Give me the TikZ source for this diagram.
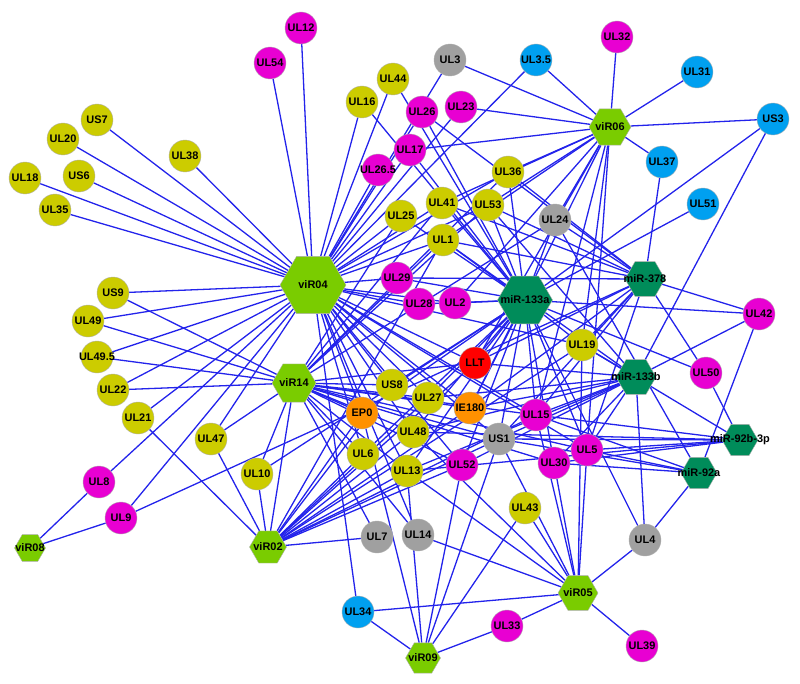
\documentclass[tikz,border=0pt]{standalone}
\usepackage{fontspec}
\setmainfont{Liberation Sans}
\usepackage{xcolor}
\usetikzlibrary{
	shapes.geometric,   %几何形状
	backgrounds         %背景路径
}
\definecolor{geneyellow}{RGB}{204,204,0}
\definecolor{genemagenta}{RGB}{232,0,210}
\definecolor{geneblue}{RGB}{0,160,240}
\definecolor{genegray}{RGB}{160,160,160}
\definecolor{geneorange}{RGB}{255,145,0}
\definecolor{genered}{RGB}{255,0,0}
\definecolor{virgreen}{RGB}{122,204,0}
\definecolor{mirgreen}{RGB}{0,140,90}
\definecolor{linkblue}{RGB}{35,35,235}
\definecolor{rimgray}{RGB}{175,175,175}
\tikzset{
	every picture/.style={
		x=1bp,y=-1bp
	},
	gene/.style={circle,
		minimum size=32bp,
		inner sep=0pt,
		draw=rimgray,
		fill=#1,
		font=\fontsize{11}{11}\selectfont\bfseries},
	hexbase/.style={regular polygon,
		regular polygon sides=6,
		inner sep=0pt,
		draw=rimgray,
		font=\fontsize{11}{11}\selectfont\bfseries},
	vhub/.style={hexbase,fill=virgreen,minimum size=#1},
	mhub/.style={hexbase,fill=mirgreen,minimum size=#1},
	link/.style={draw=linkblue,line width=1.3bp}
}

\begin{document}
\begin{tikzpicture}
	\useasboundingbox (0,0) rectangle (800,684);
	% miRNA
	\node (vir04) at (313,285) [vhub=66bp] {\makebox[0pt]{viR04}};
	\node (vir14) at (294,383) [vhub=44bp] {\makebox[0pt]{viR14}};
	\node (vir02) at (268,547) [vhub=37bp] {\makebox[0pt]{viR02}};
	\node (vir08) at (30,548) [vhub=31bp] {\makebox[0pt]{viR08}};
	\node (vir05) at (578,593) [vhub=40bp] {\makebox[0pt]{viR05}};
	\node (vir09) at (423,658) [vhub=35bp] {\makebox[0pt]{viR09}};
	\node (vir06) at (610,127) [vhub=42bp] {\makebox[0pt]{viR06}};
	\node (mir133a) at (525,300) [mhub=55bp] {\makebox[0pt]{miR-133a}};
	\node (mir378) at (645,279) [mhub=40bp] {\makebox[0pt]{miR-378}};
	\node (mir133b) at (636,377) [mhub=40bp] {\makebox[0pt]{miR-133b}};
	\node (mir92b) at (740,440) [mhub=36bp] {\makebox[0pt]{miR-92b-3p}};
	\node (mir92a) at (699,473) [mhub=36bp] {\makebox[0pt]{miR-92a}};
	% genes
	\node (ul12) at (301,28) [gene=genemagenta] {UL12};
	\node (ul54) at (270,63) [gene=genemagenta] {UL54};
	\node (us7) at (97,120) [gene=geneyellow] {US7};
	\node (ul20) at (63,139) [gene=geneyellow] {UL20};
	\node (ul38) at (185,156) [gene=geneyellow] {UL38};
	\node (ul18) at (25,178) [gene=geneyellow] {UL18};
	\node (us6) at (79,176) [gene=geneyellow] {US6};
	\node (ul35) at (55,210) [gene=geneyellow] {UL35};
	\node (ul16) at (362,102) [gene=geneyellow] {UL16};
	\node (ul44) at (393,79) [gene=geneyellow] {UL44};
	\node (ul3) at (450,60) [gene=genegray] {UL3};
	\node (ul3p5) at (536,60) [gene=geneblue] {\makebox[0pt]{UL3.5}};
	\node (ul32) at (617,37) [gene=genemagenta] {UL32};
	\node (ul31) at (697,72) [gene=geneblue] {UL31};
	\node (us3) at (773,119) [gene=geneblue] {US3};
	\node (ul37) at (662,162) [gene=geneblue] {UL37};
	\node (ul51) at (703,204) [gene=geneblue] {UL51};
	\node (ul26) at (422,112) [gene=genemagenta] {UL26};
	\node (ul23) at (461,107) [gene=genemagenta] {UL23};
	\node (ul17) at (410,150) [gene=genemagenta] {UL17};
	\node (ul26p5) at (378,170) [gene=genemagenta] {\makebox[0pt]{UL26.5}};
	\node (ul36) at (508,172) [gene=geneyellow] {UL36};
	\node (ul41) at (442,203) [gene=geneyellow] {UL41};
	\node (ul53) at (488,205) [gene=geneyellow] {UL53};
	\node (ul25) at (401,216) [gene=geneyellow] {UL25};
	\node (ul1) at (443,240) [gene=geneyellow] {UL1};
	\node (ul24) at (555,220) [gene=genegray] {UL24};
	\node (ul29) at (397,278) [gene=genemagenta] {UL29};
	\node (ul28) at (419,304) [gene=genemagenta] {UL28};
	\node (ul2) at (455,303) [gene=genemagenta] {UL2};
	\node (ul42) at (759,314) [gene=genemagenta] {UL42};
	\node (us9) at (113,293) [gene=geneyellow] {US9};
	\node (ul49) at (88,321) [gene=geneyellow] {UL49};
	\node (ul49p5) at (97,357) [gene=geneyellow] {\makebox[0pt]{UL49.5}};
	\node (ul22) at (113,390) [gene=geneyellow] {UL22};
	\node (ul21) at (138,418) [gene=geneyellow] {UL21};
	\node (ul47) at (211,439) [gene=geneyellow] {UL47};
	\node (ul10) at (257,474) [gene=geneyellow] {UL10};
	\node (ul8) at (99,482) [gene=genemagenta] {UL8};
	\node (ul9) at (121,518) [gene=genemagenta] {UL9};
	\node (us8) at (392,385) [gene=geneyellow] {US8};
	\node (ul27) at (428,398) [gene=geneyellow] {UL27};
	\node (ep0) at (362,413) [gene=geneorange] {EP0};
	\node (ul48) at (413,432) [gene=geneyellow] {UL48};
	\node (ul6) at (363,454) [gene=geneyellow] {UL6};
	\node (ul13) at (407,471) [gene=geneyellow] {UL13};
	\node (llt) at (475,363) [gene=genered] {LLT};
	\node (ie180) at (470,408) [gene=geneorange] {IE180};
	\node (ul19) at (582,345) [gene=geneyellow] {UL19};
	\node (ul50) at (706,373) [gene=genemagenta] {UL50};
	\node (ul15) at (536,415) [gene=genemagenta] {UL15};
	\node (us1) at (499,439) [gene=genegray] {US1};
	\node (ul52) at (462,465) [gene=genemagenta] {UL52};
	\node (ul30) at (554,463) [gene=genemagenta] {UL30};
	\node (ul5) at (587,450) [gene=genemagenta] {UL5};
	\node (ul7) at (377,537) [gene=genegray] {UL7};
	\node (ul14) at (418,535) [gene=genegray] {UL14};
	\node (ul43) at (525,508) [gene=geneyellow] {UL43};
	\node (ul4) at (645,540) [gene=genegray] {UL4};
	\node (ul34) at (358,612) [gene=geneblue] {UL34};
	\node (ul33) at (507,626) [gene=genemagenta] {UL33};
	\node (ul39) at (642,646) [gene=genemagenta] {UL39};
	% links
	\begin{scope}[on background layer]
	\foreach \t in {ul12,ul54,us7,ul20,ul38,ul18,us6,ul35,ul16,ul44,ul3,ul3p5,ul23,ul26,ul17,ul26p5,ul25,ul41,ul1,ul29,ul28,ul2,us9,ul49,ul49p5,ul22,ul21,ul47,ul8,ul9,us8,ul27,ep0,ul48,ul6,ul13,llt,ie180,us1,ul52,ul15,ul5,ul19,ul34,ul36,ul53,ul14}
		\draw[link] (vir04) -- (\t);
	\foreach \t in {us9,ul49,ul49p5,ul22,ul47,ul10,vir02,us8,ul27,ep0,ul48,ul6,ul13,llt,ie180,us1,ul52,ul15,ul5,ul30,ul7,ul14,ul25,ul1,ul41,ul53,ul36,ul24}
		\draw[link] (vir14) -- (\t);
	\foreach \t in {ul21,ul47,ul10,ul7,ep0,ul6,ul48,us8,ul27,ie180,llt,us1,ul13,ul15,ul52,ul19,ul1}
		\draw[link] (vir02) -- (\t);
	\foreach \t in {ul8,ul9}
		\draw[link] (vir08) -- (\t);
	\foreach \t in {ul4,ul39,ul33,ul34,ul43,ul30,ul5,ul15,us1,ul13,ul14,ul19,ul48}
		\draw[link] (vir05) -- (\t);
	\foreach \t in {ul34,ul33,ul52,us1,ul43,ul13,ep0}
		\draw[link] (vir09) -- (\t);
	\foreach \t in {ul3,ul3p5,ul32,ul31,us3,ul37,ul23,ul36,ul53,ul24,ul41,ul1,ul2,ul19,llt,ie180,ul15,ul5,ul17}
		\draw[link] (vir06) -- (\t);
	\foreach \t in {ul16,ul44,ul26,ul17,ul41,ul1,ul25,ul53,ul36,ul24,ul2,ul28,ul29,ul51,us3,ul42,ul50,ul19,llt,ie180,us8,ul27,ep0,ul48,ul6,ul13,us1,ul52,ul15,ul5,ul30,ul10,ul4}
		\draw[link] (mir133a) -- (\t);
	\foreach \t in {ul37,ul42,ul50,ul36,ul53,ul41,ul1,ul24,ul19,llt,ie180,ul9,ul15,ul5,us1,ul26,ul29}
		\draw[link] (mir378) -- (\t);
	\foreach \t in {us3,ul42,ul19,ul15,ul5,ul30,us1,ie180,llt,ul52,ul4,ul48,ul27,ul53,ul1,ul13}
		\draw[link] (mir133b) -- (\t);
	\foreach \t in {ul50,ul19,ul5,us1,ul15,ul30,ul13,ul48}
		\draw[link] (mir92b) -- (\t);
	\foreach \t in {ul42,ul24,ul4,ul5,ul15,us1,ul30}
		\draw[link] (mir92a) -- (\t);
	\end{scope}
\end{tikzpicture}
\end{document}
